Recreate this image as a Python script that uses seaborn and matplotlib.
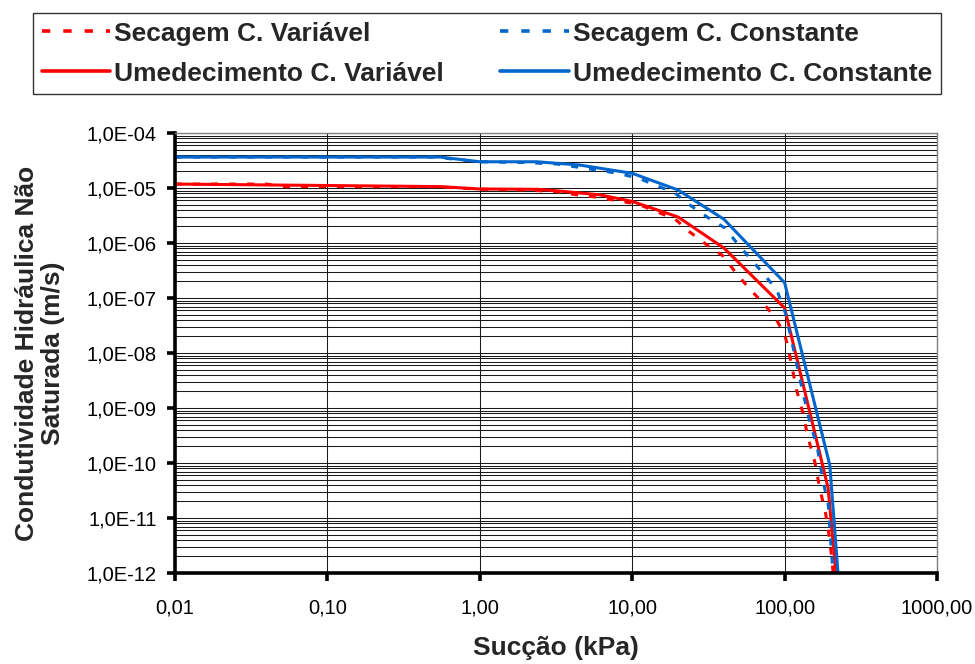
import numpy as np
import pandas as pd
import matplotlib
matplotlib.use("Agg")
import matplotlib.pyplot as plt
import seaborn as sns
from matplotlib.ticker import FixedLocator, LogLocator, NullFormatter
from matplotlib.lines import Line2D

# ---------------- data ----------------
sv_x = [0.01, 0.04, 0.05, 0.5, 1.0, 2.0, 3.2, 4.35, 5.9, 7.9, 10.9, 14.1, 19.1, 23.9, 31,
        39.5, 47.3, 57.5, 71, 86.5, 100.6, 108, 120, 132, 142, 158, 171, 184, 193, 205, 208]
sv_y = [1.18e-5, 1.18e-5, 1.06e-5, 1.06e-5, 9.5e-6, 9.2e-6, 8.6e-6, 7.5e-6, 6.8e-6, 5.9e-6,
        5.1e-6, 3.8e-6, 2.73e-6, 1.58e-6, 9.2e-7, 5.8e-7, 3.0e-7, 1.58e-7, 8.5e-8, 4.5e-8,
        2.1e-8, 9e-9, 2.1e-9, 8.1e-10, 3e-10, 1.04e-10, 3.2e-11, 1.4e-11, 6.6e-12, 1.7e-12, 1e-12]

sc_x = [0.01, 0.5, 1.0, 2.0, 3.2, 7.9, 10.9, 19.1, 23.9, 31, 40.6, 48.7, 59.3, 72, 89, 102,
        132, 147, 163, 179, 193, 201, 208]
sc_y = [3.65e-5, 3.65e-5, 3.0e-5, 2.9e-5, 2.73e-5, 1.87e-5, 1.52e-5, 8.1e-6, 4.9e-6, 2.97e-6,
        1.87e-6, 1.0e-6, 5.3e-7, 2.85e-7, 1.4e-7, 5.0e-8, 1.9e-9, 5.3e-10, 2.1e-10, 4.5e-11,
        1.9e-11, 3.5e-12, 1e-12]

uv_x = [0.01, 0.55, 1.0, 2.4, 3.2, 6.15, 10, 20, 40, 100, 193, 217]
uv_y = [1.18e-5, 1.06e-5, 9.6e-6, 9.46e-6, 8.9e-6, 7.5e-6, 5.7e-6, 2.97e-6, 8.1e-7, 6.6e-8,
        3.5e-11, 1e-12]

uc_x = [0.01, 0.55, 1.0, 2.37, 4.5, 10, 20, 40, 100, 198, 224]
uc_y = [3.65e-5, 3.65e-5, 3.0e-5, 3.0e-5, 2.62e-5, 1.85e-5, 9.2e-6, 2.7e-6, 1.9e-7, 9.1e-11,
        1e-12]

series_names = ["Secagem C. Variável", "Umedecimento C. Variável",
                "Secagem C. Constante", "Umedecimento C. Constante"]

x_ticks = [0.01, 0.1, 1, 10, 100, 1000]
x_tick_labels = ["0,01", "0,10", "1,00", "10,00", "100,00", "1000,00"]
y_ticks = [1e-12, 1e-11, 1e-10, 1e-9, 1e-8, 1e-7, 1e-6, 1e-5, 1e-4]
y_tick_labels = ["1,0E-12", "1,0E-11", "1,0E-10", "1,0E-09", "1,0E-08",
                 "1,0E-07", "1,0E-06", "1,0E-05", "1,0E-04"]

x_label = "Sucção (kPa)"
y_label = "Condutividade Hidráulica Não\nSaturada (m/s)"

# ---------------- build long table ----------------
frames = []
for name, xs, ys in [(series_names[0], sv_x, sv_y), (series_names[1], uv_x, uv_y),
                     (series_names[2], sc_x, sc_y), (series_names[3], uc_x, uc_y)]:
    frames.append(pd.DataFrame({"x": xs, "y": ys, "serie": name}))
df = pd.concat(frames, ignore_index=True)

RED = "#FF0000"
BLUE = "#0066CC"
palette = {series_names[0]: RED, series_names[1]: RED,
           series_names[2]: BLUE, series_names[3]: BLUE}
dash_pat = (2.3, 3.6)
dashes = {series_names[0]: dash_pat, series_names[1]: "",
          series_names[2]: dash_pat, series_names[3]: ""}

sns.set_theme(style="white")
plt.rcParams["font.family"] = ["Liberation Sans", "DejaVu Sans"]

fig = plt.figure(figsize=(9.75, 6.64), dpi=100)
ax = fig.add_axes([175 / 975, 1 - 573 / 664, (937 - 175) / 975, (573 - 133) / 664])

sns.lineplot(data=df, x="x", y="y", hue="serie", style="serie", palette=palette,
             dashes=dashes, hue_order=series_names, style_order=series_names,
             sort=False, estimator=None, linewidth=2.2, ax=ax, legend=False)

ax.set_xscale("log")
ax.set_yscale("log")
ax.set_xlim(0.01, 1000)
ax.set_ylim(1e-12, 1e-4)

ax.xaxis.set_major_locator(FixedLocator(x_ticks))
ax.set_xticklabels(x_tick_labels)
ax.xaxis.set_minor_locator(FixedLocator([]))
ax.yaxis.set_major_locator(FixedLocator(y_ticks))
ax.set_yticklabels(y_tick_labels)
ax.yaxis.set_minor_locator(LogLocator(base=10, subs=np.arange(2, 10), numticks=100))
ax.yaxis.set_minor_formatter(NullFormatter())

ax.grid(True, which="major", axis="both", color="#1a1a1a", linewidth=0.75)
ax.grid(True, which="minor", axis="y", color="#1a1a1a", linewidth=0.75)
ax.set_axisbelow(True)

for side in ["left", "bottom"]:
    ax.spines[side].set_color("black")
    ax.spines[side].set_linewidth(2.6)
for side in ["top", "right"]:
    ax.spines[side].set_color("#808080")
    ax.spines[side].set_linewidth(1.0)
    ax.spines[side].set_visible(True)

ax.tick_params(axis="both", which="major", direction="out", length=6, width=2.6,
               color="black", labelsize=14.5, labelcolor="black", pad=7,
               left=True, bottom=True)
ax.tick_params(axis="x", which="major", pad=12)
ax.tick_params(axis="y", which="minor", length=0)

ax.set_xlabel(x_label, fontsize=19, fontweight="bold", labelpad=14)
ax.set_ylabel(y_label, fontsize=19, fontweight="bold", linespacing=1.1)
ax.yaxis.set_label_coords(-0.145, 0.5)

# legend
handles = []
for n in series_names:
    if dashes[n]:
        handles.append(Line2D([], [], color=palette[n], linewidth=2.6, dashes=dash_pat))
    else:
        handles.append(Line2D([], [], color=palette[n], linewidth=2.6))
leg = fig.legend(handles, series_names, ncol=2, loc="upper left",
                 bbox_to_anchor=(33 / 975, 1 - 94 / 664, (941 - 33) / 975, (94 - 13) / 664),
                 mode="expand", frameon=True, fancybox=False, shadow=False,
                 prop={"family": ["Liberation Sans"], "weight": "bold", "size": 19},
                 handlelength=2.6, handletextpad=0.15, labelspacing=0.6,
                 borderpad=0.33, borderaxespad=0.0, columnspacing=1.0)
leg.get_frame().set_edgecolor("black")
leg.get_frame().set_linewidth(1.0)

fig.savefig("out.png", dpi=100)
